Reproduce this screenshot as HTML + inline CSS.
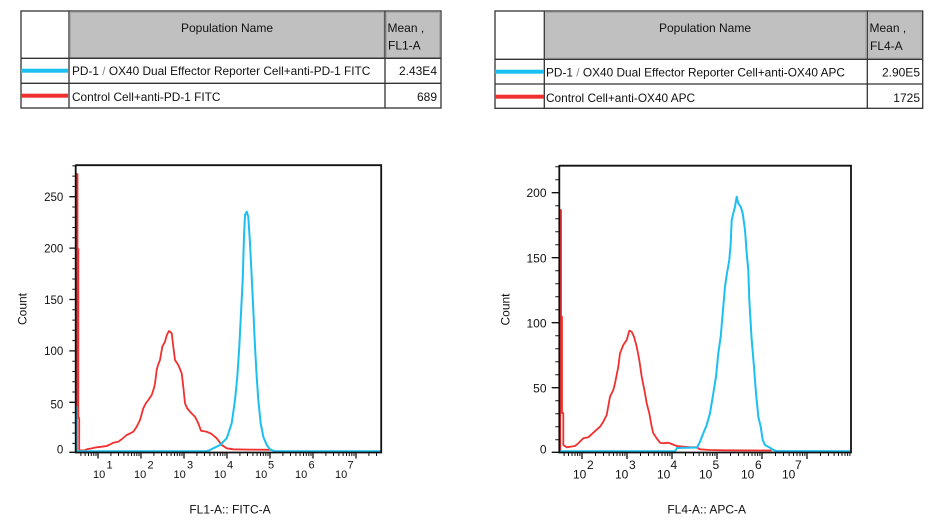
<!DOCTYPE html>
<html><head><meta charset="utf-8"><style>
html,body{margin:0;padding:0;background:#fff;}
svg{display:block;}
text{font-family:"Liberation Sans",Arial,sans-serif;fill:#111;}
</style></head><body>
<svg width="942" height="526" viewBox="0 0 942 526" xmlns="http://www.w3.org/2000/svg">
<rect width="942" height="526" fill="#fff"/>

<!-- LEFT TABLE -->
<rect x="21" y="11" width="420" height="97" fill="#fff" stroke="#333" stroke-width="1.3"/>
<rect x="70.5" y="12.5" width="313.5" height="45" fill="#c0c0c0" stroke="#a8a8a8" stroke-width="1"/>
<rect x="386.5" y="12.5" width="53" height="45" fill="#c0c0c0" stroke="#a8a8a8" stroke-width="1"/>
<line x1="69" y1="11" x2="69" y2="108" stroke="#333" stroke-width="1.3"/>
<line x1="385" y1="11" x2="385" y2="108" stroke="#333" stroke-width="1.3"/>
<line x1="21" y1="58.3" x2="441" y2="58.3" stroke="#333" stroke-width="1.3"/>
<line x1="21" y1="83.3" x2="441" y2="83.3" stroke="#333" stroke-width="1.3"/>
<rect x="21" y="68.7" width="47" height="4" fill="#1bbff0"/>
<rect x="21" y="93.7" width="47" height="4" fill="#f0302e"/>
<text x="227" y="32" font-size="12" text-anchor="middle">Population Name</text>
<text x="387.5" y="32" font-size="12">Mean ,</text>
<text x="388" y="49.5" font-size="12">FL1-A</text>
<text x="72" y="75" font-size="11.85">PD-1 <tspan fill="#888">/</tspan> OX40 Dual Effector Reporter Cell+anti-PD-1 FITC</text>
<text x="437" y="75" font-size="12" text-anchor="end">2.43E4</text>
<text x="72" y="101" font-size="11.85">Control Cell+anti-PD-1 FITC</text>
<text x="437" y="101" font-size="12" text-anchor="end">689</text>

<!-- RIGHT TABLE -->
<rect x="495" y="11" width="427.7" height="97.3" fill="#fff" stroke="#333" stroke-width="1.3"/>
<rect x="545.8" y="12.5" width="320" height="45.5" fill="#c0c0c0" stroke="#a8a8a8" stroke-width="1"/>
<rect x="868.8" y="12.5" width="52.5" height="45.5" fill="#c0c0c0" stroke="#a8a8a8" stroke-width="1"/>
<line x1="544.3" y1="11" x2="544.3" y2="108.3" stroke="#333" stroke-width="1.3"/>
<line x1="867.3" y1="11" x2="867.3" y2="108.3" stroke="#333" stroke-width="1.3"/>
<line x1="495" y1="59.3" x2="922.7" y2="59.3" stroke="#333" stroke-width="1.3"/>
<line x1="495" y1="84" x2="922.7" y2="84" stroke="#333" stroke-width="1.3"/>
<rect x="495" y="69.7" width="49" height="4" fill="#1bbff0"/>
<rect x="495" y="94.7" width="49" height="4" fill="#f0302e"/>
<text x="705" y="32" font-size="12" text-anchor="middle">Population Name</text>
<text x="869.5" y="32" font-size="12">Mean ,</text>
<text x="870" y="50" font-size="12">FL4-A</text>
<text x="546" y="76.5" font-size="11.85">PD-1 <tspan fill="#888">/</tspan> OX40 Dual Effector Reporter Cell+anti-OX40 APC</text>
<text x="920" y="76.5" font-size="12" text-anchor="end">2.90E5</text>
<text x="546" y="102" font-size="11.85">Control Cell+anti-OX40 APC</text>
<text x="920" y="102" font-size="12" text-anchor="end">1725</text>

<!-- LEFT PLOT -->
<polyline fill="none" stroke="#f0302e" stroke-width="1.8" stroke-linejoin="round" points="76.8,453 76.8,174 77.5,174 77.5,249 78.3,249 78.3,418 79.2,418 79.2,450 81,450.5 85,450.3 86.7,449.3 91,448.5 96.7,447.3 101,446.8 106.7,446 110,444.5 113.3,442.7 118.3,441.7 122,439 126.7,435 130,433.5 133.3,431.7 136.7,426.7 140,420 143.3,408.3 146,403 148.3,400 151.7,395 154,388 155,383.3 156.7,370 158,365 160,360 162.3,346.7 165,341.7 166.5,336 167.7,333.3 169,331 170,331.7 171.7,333.3 173.3,346.7 175,360 178.3,365 181.7,373.3 183.3,386.7 185,403.3 187,408 190,411.7 195,416.7 198.3,423.3 201,430.7 206.7,431.7 211.7,434 216.7,438.3 221.7,445 226.7,448.3 233.3,449.3 250,449.6 272,449.8"/>
<polyline fill="none" stroke="#1bbff0" stroke-width="2" stroke-linejoin="round" points="76.2,452 76.2,407 76.6,407 76.8,451.3 205,451.3 209,450.5 213.3,448.3 220,445 226.7,438.3 231.7,423.3 235,400 237.3,376.7 239.3,346.7 241,313.3 242.7,280 244,236.7 245,215 246.7,211.7 248.3,216.7 250,243.3 251.7,276.7 253.3,310 255,346.7 256.7,376.7 258.3,400 260.7,423.3 263.3,436.7 266.7,445 270,449.3 273.3,450.7 276,451.3 380.5,451.3"/>
<path d="M75.7,164.5 V452.5 H381.2 V165.2 H75.7" fill="none" stroke="#111" stroke-width="1.8"/>
<path d="M69.3,402.3H75.7M69.3,350.9H75.7M69.3,299.5H75.7M69.3,248.1H75.7M69.3,196.7H75.7M69.3,452.3H75.7" stroke="#111" stroke-width="1.3"/>
<path d="M72.3,443.4H75.7M72.3,433.1H75.7M72.3,422.9H75.7M72.3,412.6H75.7M72.3,392H75.7M72.3,381.7H75.7M72.3,371.5H75.7M72.3,361.2H75.7M72.3,340.6H75.7M72.3,330.3H75.7M72.3,320.1H75.7M72.3,309.8H75.7M72.3,289.2H75.7M72.3,279H75.7M72.3,268.7H75.7M72.3,258.4H75.7M72.3,237.8H75.7M72.3,227.5H75.7M72.3,217.3H75.7M72.3,207H75.7M72.3,186.4H75.7M72.3,176.1H75.7M72.3,165.9H75.7" stroke="#111" stroke-width="1"/>
<path d="M98,452.5v6M141,452.5v6M184,452.5v6M227,452.5v6M270,452.5v6M313,452.5v6M356,452.5v6" stroke="#111" stroke-width="1.3"/>
<path d="M80.9,452.5v3.5M85.1,452.5v3.5M88.5,452.5v3.5M91.3,452.5v3.5M93.8,452.5v3.5M96,452.5v3.5M110.9,452.5v3.5M118.5,452.5v3.5M123.9,452.5v3.5M128.1,452.5v3.5M131.5,452.5v3.5M134.3,452.5v3.5M136.8,452.5v3.5M139,452.5v3.5M153.9,452.5v3.5M161.5,452.5v3.5M166.9,452.5v3.5M171.1,452.5v3.5M174.5,452.5v3.5M177.3,452.5v3.5M179.8,452.5v3.5M182,452.5v3.5M196.9,452.5v3.5M204.5,452.5v3.5M209.9,452.5v3.5M214.1,452.5v3.5M217.5,452.5v3.5M220.3,452.5v3.5M222.8,452.5v3.5M225,452.5v3.5M239.9,452.5v3.5M247.5,452.5v3.5M252.9,452.5v3.5M257.1,452.5v3.5M260.5,452.5v3.5M263.3,452.5v3.5M265.8,452.5v3.5M268,452.5v3.5M282.9,452.5v3.5M290.5,452.5v3.5M295.9,452.5v3.5M300.1,452.5v3.5M303.5,452.5v3.5M306.3,452.5v3.5M308.8,452.5v3.5M311,452.5v3.5M325.9,452.5v3.5M333.5,452.5v3.5M338.9,452.5v3.5M343.1,452.5v3.5M346.5,452.5v3.5M349.3,452.5v3.5M351.8,452.5v3.5M354,452.5v3.5M368.9,452.5v3.5M376.5,452.5v3.5" stroke="#111" stroke-width="1"/>
<g font-size="11.5" text-anchor="end">
<text x="63.3" y="200.8">250</text>
<text x="63.3" y="252.3">200</text>
<text x="63.3" y="304">150</text>
<text x="63.3" y="355">100</text>
<text x="63.3" y="408.3">50</text>
<text x="63.3" y="453.6">0</text>
</g>
<g font-size="11">
<text x="93" y="478">10</text><text x="106.5" y="468.5">1</text>
<text x="134" y="478">10</text><text x="147.5" y="468.5">2</text>
<text x="173.5" y="478">10</text><text x="187" y="468.5">3</text>
<text x="214" y="478">10</text><text x="227" y="468.5">4</text>
<text x="255" y="478">10</text><text x="268" y="468.5">5</text>
<text x="295" y="478">10</text><text x="308.5" y="468.5">6</text>
<text x="335" y="478">10</text><text x="347.5" y="468.5">7</text>
</g>
<text x="230" y="513.3" font-size="12" text-anchor="middle">FL1-A:: FITC-A</text>
<text transform="translate(26.6,309) rotate(-90)" font-size="12" text-anchor="middle">Count</text>

<!-- RIGHT PLOT -->
<polyline fill="none" stroke="#f0302e" stroke-width="1.8" stroke-linejoin="round" points="560.3,453 560.3,210 561,210 561,316.7 562,316.7 562,413 563.3,413 563.3,445 566.7,447.3 575,446 578.3,443.3 583.3,438.3 588.3,437.3 593.3,432.7 600,426.7 603.3,421.7 606.7,415 610,396.7 613.3,390 615,383.3 618.3,366.7 620,353.3 623.3,345 626.7,340 629.3,330.7 631.7,331.7 634,336.7 636.7,346.7 639.3,360 641.7,376.7 645,393.3 646.7,403.3 649.3,413.3 651.7,426.7 653.3,433.3 656.7,438.3 660,442.7 663.3,443.3 668.3,442.7 671.7,444 676.7,446 683.3,446.7 690,447.3 696.7,447.3 700,449.3 710,450 723.3,450.3 771.7,450.5"/>
<polyline fill="none" stroke="#1bbff0" stroke-width="2" stroke-linejoin="round" points="560,451.2 675,451.2 677,448 697,447.5 700,441.7 703.3,433.3 706.7,425 710,413.3 713.3,393.3 716,376.7 718.3,353.3 720.7,336.7 722.7,313.3 725,286.7 726.7,275 729.3,260 730.7,243.3 731.7,220 733.3,213.3 735,206.7 736.7,196.7 738.3,203.3 740.7,206.7 742.7,213.3 745,230 746.7,253.3 748.3,270 749.3,300 751.7,340 754,366.7 756,393.3 758.3,416.7 760.7,426.7 762.7,440 765,445 770,447.7 773.3,450 776.7,451 850,451.2"/>
<path d="M559.3,165 V452.5 H851 V165.7 H559.3" fill="none" stroke="#111" stroke-width="1.8"/>
<path d="M551.7,387.7H559.3M551.7,322.7H559.3M551.7,257.7H559.3M551.7,192.7H559.3M551.7,452.3H559.3" stroke="#111" stroke-width="1.3"/>
<path d="M555.3,439.7H559.3M555.3,426.7H559.3M555.3,413.7H559.3M555.3,400.7H559.3M555.3,374.7H559.3M555.3,361.7H559.3M555.3,348.7H559.3M555.3,335.7H559.3M555.3,309.7H559.3M555.3,296.7H559.3M555.3,283.7H559.3M555.3,270.7H559.3M555.3,244.7H559.3M555.3,231.7H559.3M555.3,218.7H559.3M555.3,205.7H559.3M555.3,179.7H559.3M555.3,166.7H559.3" stroke="#111" stroke-width="1"/>
<path d="M582,452.5v6.5M627,452.5v6.5M672,452.5v6.5M717,452.5v6.5M762,452.5v6.5M807,452.5v6.5" stroke="#111" stroke-width="1.3"/>
<path d="M564.1,452.5v3.5M568.5,452.5v3.5M572,452.5v3.5M575,452.5v3.5M577.6,452.5v3.5M579.9,452.5v3.5M595.5,452.5v3.5M603.5,452.5v3.5M609.1,452.5v3.5M613.5,452.5v3.5M617,452.5v3.5M620,452.5v3.5M622.6,452.5v3.5M624.9,452.5v3.5M640.5,452.5v3.5M648.5,452.5v3.5M654.1,452.5v3.5M658.5,452.5v3.5M662,452.5v3.5M665,452.5v3.5M667.6,452.5v3.5M669.9,452.5v3.5M685.5,452.5v3.5M693.5,452.5v3.5M699.1,452.5v3.5M703.5,452.5v3.5M707,452.5v3.5M710,452.5v3.5M712.6,452.5v3.5M714.9,452.5v3.5M730.5,452.5v3.5M738.5,452.5v3.5M744.1,452.5v3.5M748.5,452.5v3.5M752,452.5v3.5M755,452.5v3.5M757.6,452.5v3.5M759.9,452.5v3.5M775.5,452.5v3.5M783.5,452.5v3.5M789.1,452.5v3.5M793.5,452.5v3.5M797,452.5v3.5M800,452.5v3.5M802.6,452.5v3.5M804.9,452.5v3.5M820.5,452.5v3.5M828.5,452.5v3.5M834.1,452.5v3.5M838.5,452.5v3.5M842,452.5v3.5M845,452.5v3.5M847.6,452.5v3.5M849.9,452.5v3.5" stroke="#111" stroke-width="1"/>
<g font-size="12" text-anchor="end">
<text x="546.5" y="197">200</text>
<text x="546.5" y="262.3">150</text>
<text x="546.5" y="327.5">100</text>
<text x="546.5" y="392.5">50</text>
<text x="546.5" y="453.6">0</text>
</g>
<g font-size="12">
<text x="573" y="478.3">10</text><text x="587" y="469">2</text>
<text x="615" y="478.3">10</text><text x="629" y="469">3</text>
<text x="657" y="478.3">10</text><text x="670.5" y="469">4</text>
<text x="699" y="478.3">10</text><text x="712.5" y="469">5</text>
<text x="741" y="478.3">10</text><text x="755" y="469">6</text>
<text x="782" y="478.3">10</text><text x="795" y="469">7</text>
</g>
<text x="706.7" y="513.5" font-size="12" text-anchor="middle">FL4-A:: APC-A</text>
<text transform="translate(509.3,309.5) rotate(-90)" font-size="12" text-anchor="middle">Count</text>
</svg>
</body></html>
